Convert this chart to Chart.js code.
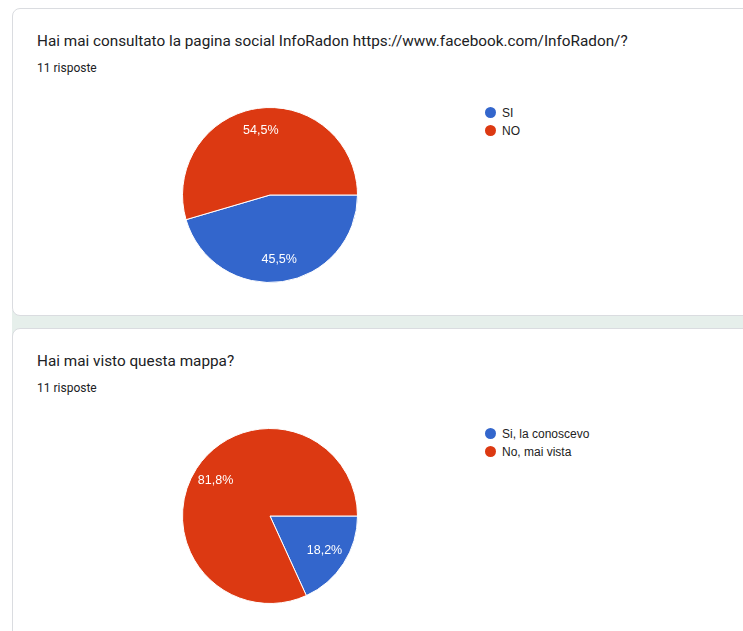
<!DOCTYPE html>
<html>
<head>
<meta charset="utf-8">
<script src="https://cdn.jsdelivr.net/npm/chart.js@4.4.1/dist/chart.umd.min.js"></script>
<style>
  body { margin: 0; background: #fff; width: 743px; height: 631px; overflow: hidden; position: relative; }
  .gap { position: absolute; left: 12px; top: 310px; width: 731px; height: 26px; background: #e6efeb; }
  .card { position: absolute; left: 12px; width: 740px; background: #fff; border: 1px solid #dadce0; border-radius: 8px; box-sizing: border-box; }
  .title { position: absolute; left: 24px; font-family: Roboto, sans-serif; font-size: 15.3px; color: #202124; white-space: nowrap; }
  .sub { position: absolute; left: 24px; font-family: Roboto, sans-serif; font-size: 12px; color: #202124; }
  .pie { position: absolute; }
  .legend { position: absolute; font-family: "Liberation Sans", Arial, sans-serif; font-size: 12px; color: #222; }
  .legend div { height: 18px; line-height: 18px; white-space: nowrap; }
  .legend span { display: inline-block; width: 11px; height: 11px; border-radius: 50%; vertical-align: -1px; margin-right: 6px; }
</style>
</head>
<body>
<div class="gap"></div>
<div class="card" style="top:8px;height:308px">
  <div class="title" style="top:23px">Hai mai consultato la pagina social InfoRadon https://www.facebook.com/InfoRadon/?</div>
  <div class="sub" style="top:52px">11 risposte</div>
</div>
<div class="card" style="top:328px;height:320px">
  <div class="title" style="top:23px">Hai mai visto questa mappa?</div>
  <div class="sub" style="top:52px">11 risposte</div>
</div>
<div class="pie" style="left:176px;top:101px;width:188px;height:188px"><canvas id="chart1"></canvas></div>
<div class="legend" id="legend1" style="left:485px;top:104px"></div>
<div class="pie" style="left:176px;top:422px;width:188px;height:188px"><canvas id="chart2"></canvas></div>
<div class="legend" id="legend2" style="left:485px;top:425px"></div>
<script>
const colors = ['#3366cc', '#dc3912'];

const labels1 = ['SI', 'NO'];
const values1 = [5, 6];

const labels2 = ['Si, la conoscevo', 'No, mai vista'];
const values2 = [2, 9];

// percent labels inside slices, like google charts
const sliceLabels = {
    id: 'sliceLabels',
    afterDatasetsDraw(chart) {
        const ctx = chart.ctx;
        const data = chart.data.datasets[0].data;
        const total = data.reduce((a, b) => a + b, 0);
        ctx.save();
        ctx.fillStyle = '#fff';
        ctx.font = '12.5px "Liberation Sans", Arial, sans-serif';
        ctx.textAlign = 'center';
        ctx.textBaseline = 'middle';
        chart.getDatasetMeta(0).data.forEach((arc, i) => {
            const mid = (arc.startAngle + arc.endAngle) / 2;
            const r = arc.outerRadius * 0.74;
            const pct = (data[i] / total * 100).toFixed(1).replace('.', ',') + '%';
            ctx.fillText(pct, arc.x + Math.cos(mid) * r, arc.y + Math.sin(mid) * r);
        });
        ctx.restore();
    }
};

function makePie(id, legendId, labels, values) {
    new Chart(document.getElementById(id), {
        type: 'pie',
        data: {
            labels: labels,
            datasets: [{
                data: values,
                backgroundColor: colors,
                borderColor: '#fff',
                borderWidth: 1
            }]
        },
        options: {
            responsive: true,
            maintainAspectRatio: false,
            animation: false,
            rotation: 90,
            layout: { padding: 6 },
            plugins: {
                legend: { display: false },
                tooltip: { enabled: false }
            }
        },
        plugins: [sliceLabels]
    });
    document.getElementById(legendId).innerHTML = labels.map((l, i) =>
        '<div><span style="background:' + colors[i] + '"></span>' + l + '</div>').join('');
}

makePie('chart1', 'legend1', labels1, values1);
makePie('chart2', 'legend2', labels2, values2);
</script>
</body>
</html>
